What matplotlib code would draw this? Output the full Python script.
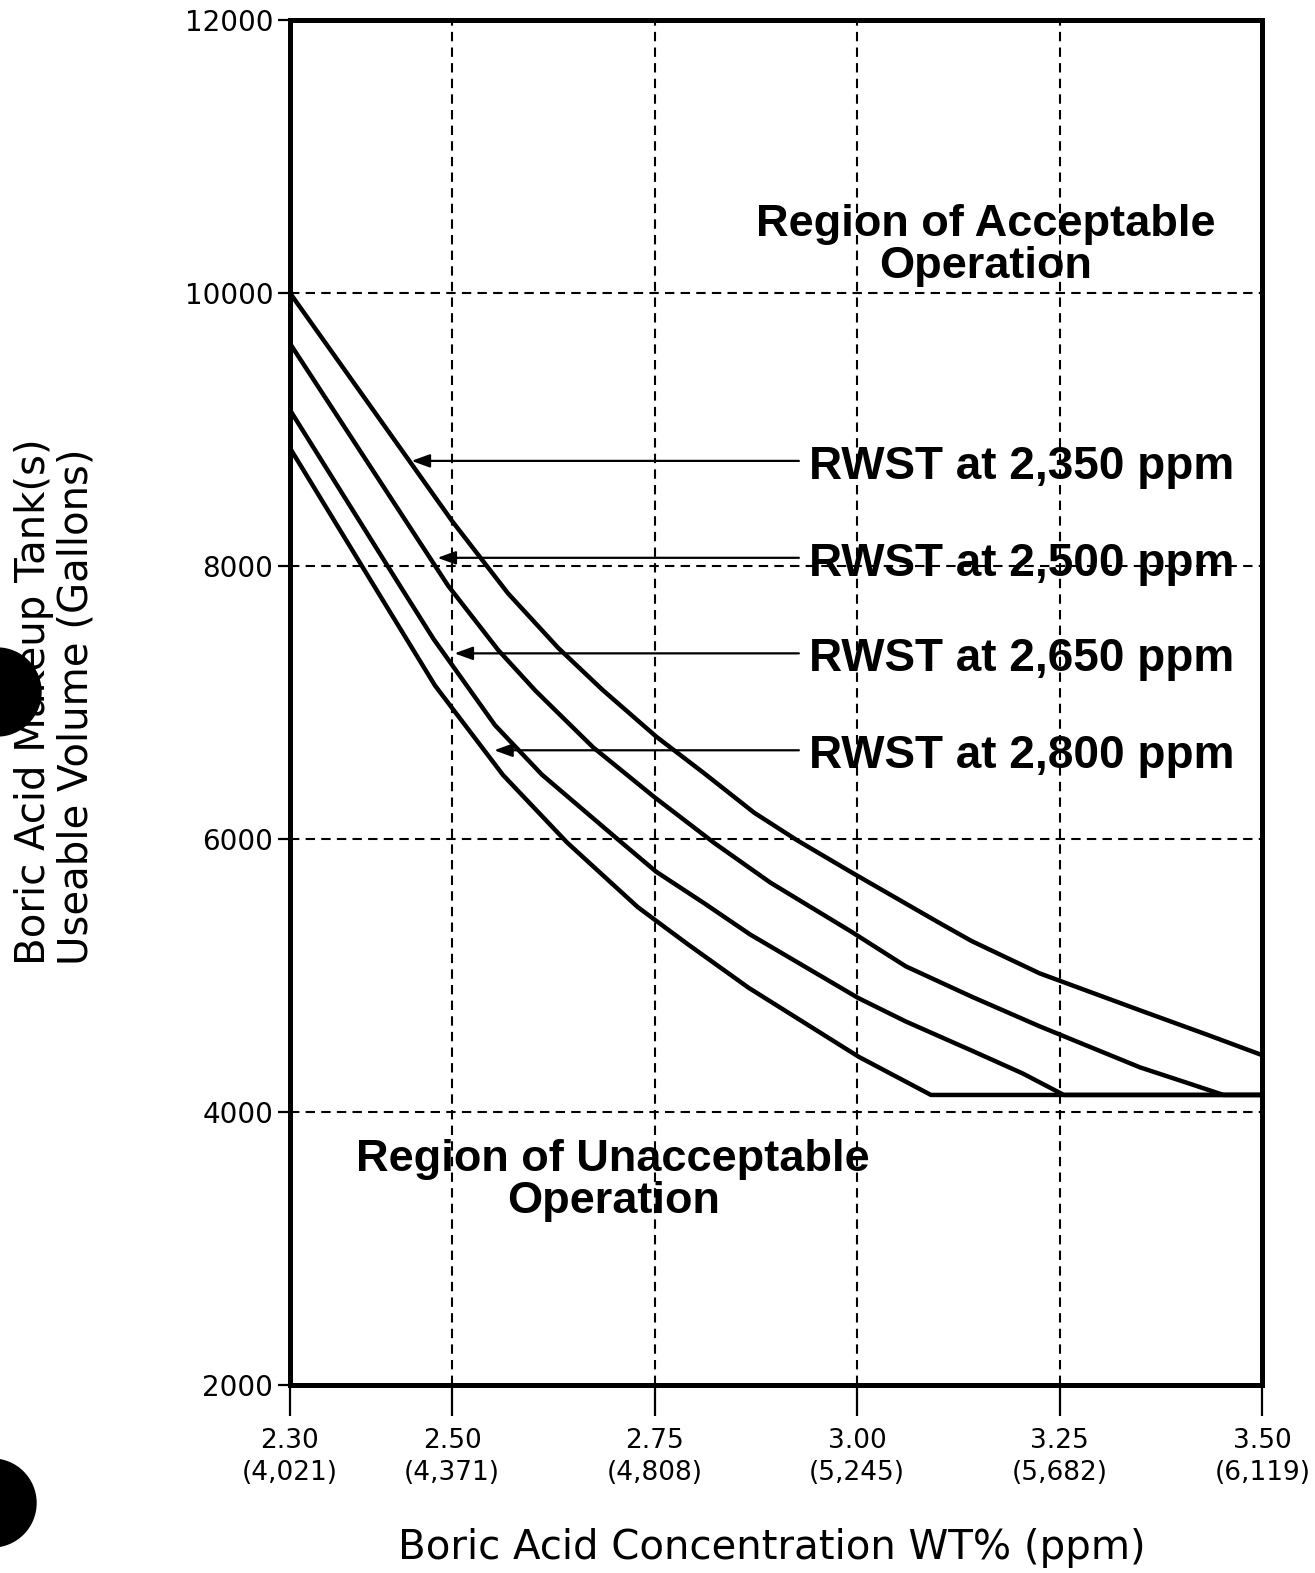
import matplotlib
matplotlib.use("Agg")
import matplotlib.pyplot as plt
from matplotlib.patches import Circle

# axis ticks
conc_ticks = [2.30, 2.50, 2.75, 3.00, 3.25, 3.50]
ppm_ticks = ["4,021", "4,371", "4,808", "5,245", "5,682", "6,119"]
vol_ticks = [2000, 4000, 6000, 8000, 10000, 12000]

# curves (wt%, gallons)
x_2350 = [2.30, 2.50, 2.569, 2.631, 2.686, 2.752, 2.811, 2.873, 2.926, 2.992,
          3.100, 3.141, 3.225, 3.349, 3.432, 3.50]
y_2350 = [10000, 8330, 7800, 7400, 7091, 6750, 6482, 6192, 5990, 5759,
          5390, 5253, 5016, 4745, 4566, 4416]

x_2500 = [2.30, 2.495, 2.557, 2.603, 2.674, 2.719, 2.749, 2.824, 2.893, 2.993,
          3.060, 3.142, 3.225, 3.349, 3.411, 3.452, 3.50]
y_2500 = [9630, 7857, 7384, 7086, 6672, 6455, 6310, 5969, 5680, 5320,
          5067, 4843, 4628, 4327, 4206, 4125, 4125]

x_2650 = [2.30, 2.436, 2.477, 2.553, 2.611, 2.712, 2.752, 2.811, 2.868, 3.001,
          3.060, 3.142, 3.204, 3.255, 3.50]
y_2650 = [9143, 7853, 7467, 6834, 6471, 5960, 5760, 5530, 5300, 4836,
          4663, 4448, 4283, 4125, 4125]

x_2800 = [2.30, 2.404, 2.479, 2.563, 2.642, 2.729, 2.750, 2.791, 2.866, 3.002,
          3.091, 3.50]
y_2800 = [8864, 7852, 7124, 6468, 5974, 5502, 5409, 5229, 4910, 4404,
          4125, 4125]

labels = ["RWST at 2,350 ppm", "RWST at 2,500 ppm", "RWST at 2,650 ppm", "RWST at 2,800 ppm"]
arrow_y = [8770, 8060, 7360, 6650]
arrow_tip = [2.450, 2.482, 2.503, 2.552]

fig = plt.figure(figsize=(13.15, 15.73), dpi=100)
ax = fig.add_axes([0.2205, 0.1195, 0.7395, 0.8678])

ax.set_xlim(2.30, 3.50)
ax.set_ylim(2000, 12000)

ax.set_axisbelow(True)
ax.grid(True, color="black", linestyle=(0, (4.5, 3)), linewidth=1.5)

for xs, ys in [(x_2350, y_2350), (x_2500, y_2500), (x_2650, y_2650), (x_2800, y_2800)]:
    ax.plot(xs, ys, color="black", linewidth=3.2, zorder=3)

for lab, yv, tip in zip(labels, arrow_y, arrow_tip):
    ax.annotate("", xy=(tip, yv), xytext=(2.928, yv),
                arrowprops=dict(arrowstyle="-|>,head_length=0.55,head_width=0.2",
                                color="black", lw=1.6, mutation_scale=20,
                                shrinkA=0, shrinkB=0))
    # cap height centred on the arrow
    ax.annotate(lab, xy=(2.940, yv), xytext=(0, -13), textcoords="offset points",
                ha="left", va="baseline", fontsize=33,
                fontweight="bold", family="Liberation Sans")

ax.text(3.158, 10350, "Region of Acceptable\nOperation", ha="center", va="center",
        fontsize=32.5, fontweight="bold", family="Liberation Sans", linespacing=1.02)
ax.text(2.699, 3500, "Region of Unacceptable\nOperation", ha="center", va="center",
        fontsize=32.5, fontweight="bold", family="Liberation Sans", linespacing=1.02)

ax.set_xticks(conc_ticks)
ax.set_xticklabels([f"{c:.2f}\n({p})" for c, p in zip(conc_ticks, ppm_ticks)],
                   linespacing=1.32)
ax.set_yticks(vol_ticks)
ax.set_yticklabels([str(v) for v in vol_ticks])
ax.tick_params(axis="x", length=22, width=1.6, pad=9, labelsize=19, direction="out")
ax.tick_params(axis="y", length=9, width=1.6, pad=3, labelsize=20, direction="out")

for sp in ax.spines.values():
    sp.set_linewidth(3.6)
    sp.set_color("black")

fig.text(772 / 1315, 1 - 1548 / 1573, "Boric Acid Concentration WT% (ppm)",
         ha="center", va="center", fontsize=29)
fig.text(55 / 1315, 1 - 702 / 1573, "Boric Acid Makeup Tank(s)\nUseable Volume (Gallons)",
         ha="center", va="center", rotation=90, fontsize=29,
         multialignment="left", linespacing=1.08)

# punch holes from the scanned page
for cx, cy in [(-3, 692), (-8, 1503)]:
    fig.patches.append(Circle((cx / 100, (1573 - cy) / 100), 0.44, color="black",
                              transform=fig.dpi_scale_trans))

fig.savefig("out.png", dpi=100)
